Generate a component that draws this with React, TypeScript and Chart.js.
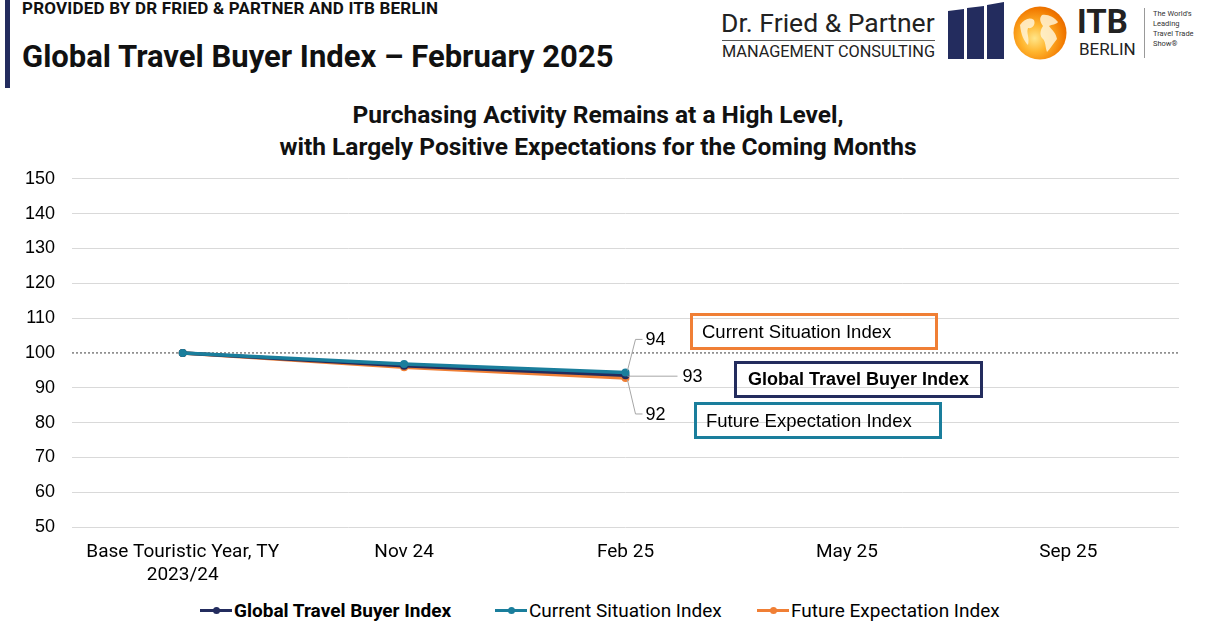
import React, { useEffect, useRef } from "react";
import { Chart, registerables } from "chart.js";

Chart.register(...registerables);

const categories: (string | string[])[] = [
  ["Base Touristic Year, TY", "2023/24"],
  "Nov 24",
  "Feb 25",
  "May 25",
  "Sep 25",
];
const globalIndex: (number | null)[] = [100, 96.3, 93.6, null, null];
const currentIndex: (number | null)[] = [100, 96.8, 94.4, null, null];
const futureIndex: (number | null)[] = [100, 95.9, 92.8, null, null];
const latestLabels = { current: "94", global: "93", future: "92" };
const yTicks = { min: 50, max: 150, step: 10 };
const baseline = 100;

const NAVY = "#232C5E";
const TEAL = "#1A7E9C";
const ORANGE = "#F07F35";
const NARROW = '"Liberation Sans Narrow", "Roboto", sans-serif';
const SANS = '"Liberation Sans", Arial, sans-serif';
const HEAD = 'Roboto, "Liberation Sans", sans-serif';

export default function App() {
  const ref = useRef<HTMLCanvasElement | null>(null);

  useEffect(() => {
    if (!ref.current) return;
    const overlay = {
      id: "overlay",
      beforeDatasetsDraw(chart: any) {
        const { ctx, chartArea, scales } = chart;
        const y = scales.y.getPixelForValue(baseline);
        ctx.save();
        ctx.strokeStyle = "#7F7F7F";
        ctx.lineWidth = 1.5;
        ctx.setLineDash([2, 2]);
        ctx.beginPath();
        ctx.moveTo(chartArea.left, y);
        ctx.lineTo(chartArea.right, y);
        ctx.stroke();
        ctx.restore();
      },
      afterDatasetsDraw(chart: any) {
        const { ctx } = chart;
        const idx = 2;
        const pc = chart.getDatasetMeta(0).data[idx];
        const pg = chart.getDatasetMeta(1).data[idx];
        const pf = chart.getDatasetMeta(2).data[idx];
        if (!pc || !pg || !pf) return;
        ctx.save();
        ctx.strokeStyle = "#A6A6A6";
        ctx.lineWidth = 1;
        ctx.setLineDash([]);
        ctx.font = `18px ${SANS}`;
        ctx.fillStyle = "#000";
        ctx.textBaseline = "middle";
        // current
        const cy = pc.y - 33;
        ctx.beginPath();
        ctx.moveTo(pc.x + 2, pc.y - 2);
        ctx.lineTo(pc.x + 10, cy);
        ctx.lineTo(pc.x + 17, cy);
        ctx.stroke();
        ctx.fillText(latestLabels.current, pc.x + 20, cy + 1);
        // global
        ctx.beginPath();
        ctx.moveTo(pg.x + 2, pg.y + 1);
        ctx.lineTo(pg.x + 52, pg.y + 1);
        ctx.stroke();
        ctx.fillText(latestLabels.global, pg.x + 57, pg.y + 2);
        // future
        const fy = pf.y + 36;
        ctx.beginPath();
        ctx.moveTo(pf.x + 2, pf.y + 2);
        ctx.lineTo(pf.x + 10, fy);
        ctx.lineTo(pf.x + 17, fy);
        ctx.stroke();
        ctx.fillText(latestLabels.future, pf.x + 20, fy + 1);
        ctx.restore();
      },
    };

    const chart = new Chart(ref.current, {
      type: "line",
      data: {
        labels: categories,
        datasets: [
          {
            label: "Current Situation Index",
            data: currentIndex,
            borderColor: TEAL,
            backgroundColor: TEAL,
            borderWidth: 3.5,
            pointRadius: 4,
            pointBorderWidth: 0,
          },
          {
            label: "Global Travel Buyer Index",
            data: globalIndex,
            borderColor: NAVY,
            backgroundColor: NAVY,
            borderWidth: 3.5,
            pointRadius: 4,
            pointBorderWidth: 0,
          },
          {
            label: "Future Expectation Index",
            data: futureIndex,
            borderColor: ORANGE,
            backgroundColor: ORANGE,
            borderWidth: 3.5,
            pointRadius: 4,
            pointBorderWidth: 0,
          },
        ],
      },
      options: {
        animation: false,
        responsive: false,
        maintainAspectRatio: false,
        layout: { padding: { left: 0, right: 31, top: 8, bottom: 0 } },
        plugins: {
          legend: { display: false },
          tooltip: { enabled: false },
          title: { display: false },
        },
        scales: {
          x: {
            offset: true,
            grid: { display: false, drawTicks: false },
            border: { display: false },
            ticks: {
              color: "#000",
              font: { family: NARROW, size: 19 },
              padding: 14,
              maxRotation: 0,
              autoSkip: false,
            },
            afterFit: (s: any) => {
              s.height = 63;
            },
          },
          y: {
            min: yTicks.min,
            max: yTicks.max,
            grid: {
              color: (c: any) =>
                c.tick && c.tick.value === baseline ? "rgba(0,0,0,0)" : "#D9D9D9",
              drawTicks: false,
              lineWidth: 1,
            },
            border: { display: false },
            ticks: {
              stepSize: yTicks.step,
              color: "#000",
              font: { family: SANS, size: 18 },
              padding: 17,
            },
            afterFit: (s: any) => {
              s.width = 72;
            },
          },
        },
      },
      plugins: [overlay],
    });
    return () => chart.destroy();
  }, []);

  const box = (
    left: number,
    top: number,
    color: string,
    text: string,
    bold: boolean,
    width: number
  ): React.ReactElement => (
    <div
      style={{
        position: "absolute",
        left,
        top,
        width,
        height: 37,
        border: `3px solid ${color}`,
        boxSizing: "border-box",
        fontFamily: SANS,
        fontSize: bold ? 18 : 18.5,
        fontWeight: bold ? 700 : 400,
        color: "#000",
        display: "flex",
        alignItems: "center",
        paddingLeft: bold ? 11 : 9,
        whiteSpace: "nowrap",
      }}
    >
      {text}
    </div>
  );

  const legendItem = (color: string, text: string, bold: boolean, left: number) => (
    <div
      style={{
        position: "absolute",
        left,
        top: 598,
        height: 24,
        display: "flex",
        alignItems: "center",
        fontFamily: NARROW,
        fontSize: 19,
        fontWeight: bold ? 700 : 400,
        whiteSpace: "nowrap",
        color: "#000",
      }}
    >
      <span style={{ position: "relative", width: 32, height: 8, marginRight: 2, display: "inline-block" }}>
        <span style={{ position: "absolute", left: 0, top: 2.5, width: 32, height: 3, background: color }} />
        <span style={{ position: "absolute", left: 12.5, top: 0.5, width: 7, height: 7, borderRadius: 4, background: color }} />
      </span>
      {text}
    </div>
  );

  return (
    <div
      style={{
        position: "fixed",
        left: 0,
        top: 0,
        width: 1210,
        height: 640,
        background: "#fff",
        overflow: "hidden",
      }}
    >
      <div style={{ position: "absolute", left: 5, top: 0, width: 5, height: 88, background: NAVY }} />
      <div
        style={{
          position: "absolute",
          left: 22,
          top: -2,
          fontFamily: HEAD,
          fontWeight: 700,
          fontSize: 17,
          color: "#111",
          whiteSpace: "nowrap",
          letterSpacing: 0.2,
        }}
      >
        PROVIDED BY DR FRIED &amp; PARTNER AND ITB BERLIN
      </div>
      <div
        style={{
          position: "absolute",
          left: 22,
          top: 38,
          fontFamily: HEAD,
          fontWeight: 700,
          fontSize: 31,
          color: "#111",
          whiteSpace: "nowrap",
        }}
      >
        Global Travel Buyer Index – February 2025
      </div>

      {/* Logos */}
      <div style={{ position: "absolute", left: 721, top: 7, fontFamily: HEAD, fontSize: 26.5, color: "#222", whiteSpace: "nowrap" }}>
        Dr. Fried &amp; Partner
      </div>
      <div style={{ position: "absolute", left: 722, top: 40, width: 213, height: 1, background: "#555" }} />
      <div style={{ position: "absolute", left: 722, top: 42, fontFamily: HEAD, fontSize: 16.3, color: "#222", whiteSpace: "nowrap" }}>
        MANAGEMENT CONSULTING
      </div>
      <svg style={{ position: "absolute", left: 945, top: 0 }} width={65} height={64}>
        <polygon points="3,11 19,9 19,59 3,59" fill={NAVY} />
        <polygon points="22,8 39,6 39,59 22,59" fill={NAVY} />
        <polygon points="42,5 59,2 59,59 42,59" fill={NAVY} />
      </svg>
      <svg style={{ position: "absolute", left: 1012, top: 5 }} width={56} height={56}>
        <defs>
          <radialGradient id="glb" cx="40%" cy="60%" r="65%">
            <stop offset="0%" stopColor="#FFE68A" />
            <stop offset="40%" stopColor="#FFB52E" />
            <stop offset="85%" stopColor="#F27A00" />
            <stop offset="100%" stopColor="#E66A00" />
          </radialGradient>
        </defs>
        <circle cx={28} cy={28} r={26.5} fill="url(#glb)" />
        <path d="M8,20 C12,14 18,12 22,15 C24,20 20,24 16,23 C14,28 18,33 16,40 C12,36 9,30 8,20 Z" fill="#FFF3D6" opacity={0.85} />
        <path d="M30,10 C36,9 42,12 46,17 C44,20 40,19 37,21 C40,25 44,28 45,34 C41,39 38,44 35,47 C33,42 34,36 30,33 C27,29 29,24 31,21 C28,17 27,13 30,10 Z" fill="#FFF3D6" opacity={0.85} />
      </svg>
      <div style={{ position: "absolute", left: 1077, top: 2, fontFamily: HEAD, fontWeight: 700, fontSize: 33, color: "#222" }}>
        ITB
      </div>
      <div style={{ position: "absolute", left: 1079, top: 39, fontFamily: HEAD, fontSize: 17, color: "#222" }}>
        BERLIN
      </div>
      <div style={{ position: "absolute", left: 1144, top: 8, width: 1, height: 50, background: "#999" }} />
      <div
        style={{
          position: "absolute",
          left: 1153,
          top: 9,
          fontFamily: HEAD,
          fontSize: 7.5,
          lineHeight: "10px",
          color: "#333",
        }}
      >
        The World's
        <br />
        Leading
        <br />
        Travel Trade
        <br />
        Show®
      </div>

      {/* Chart title */}
      <div
        style={{
          position: "absolute",
          left: 0,
          top: 99,
          width: 1196,
          textAlign: "center",
          fontFamily: HEAD,
          fontWeight: 700,
          fontSize: 24.5,
          lineHeight: "32px",
          color: "#111",
        }}
      >
        Purchasing Activity Remains at a High Level,
        <br />
        with Largely Positive Expectations for the Coming Months
      </div>

      <canvas
        ref={ref}
        width={1210}
        height={439}
        style={{ position: "absolute", left: 0, top: 151, width: 1210, height: 439 }}
      />

      {box(690, 313, ORANGE, "Current Situation Index", false, 248)}
      {box(734, 361, NAVY, "Global Travel Buyer Index", true, 249)}
      {box(694, 402, TEAL, "Future Expectation Index", false, 248)}

      {legendItem(NAVY, "Global Travel Buyer Index", true, 200)}
      {legendItem(TEAL, "Current Situation Index", false, 495)}
      {legendItem(ORANGE, "Future Expectation Index", false, 757)}
    </div>
  );
}
